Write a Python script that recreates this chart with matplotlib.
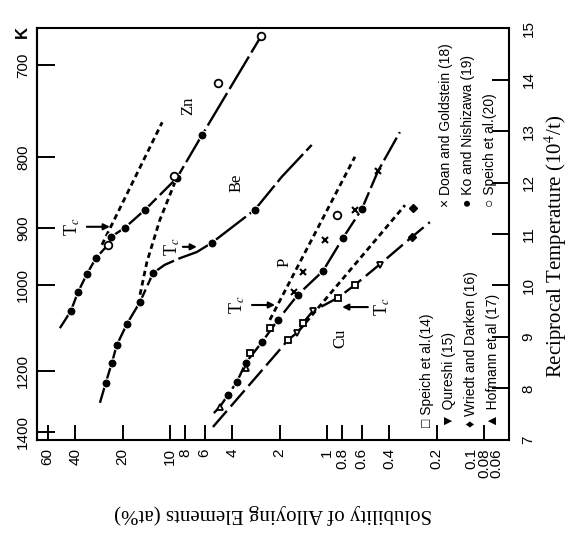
import numpy as np
import matplotlib
matplotlib.use("Agg")
import matplotlib.pyplot as plt
from matplotlib.ticker import NullLocator

plt.rcParams['mathtext.fontset'] = 'stix'
SERIF = ['Liberation Serif', 'DejaVu Serif']
SANS = ['Liberation Sans', 'DejaVu Sans']

# x: solubility (at%), y: reciprocal temperature 10^4/T
zn_x = [50.2, 42.8, 38.5, 33.8, 29.6, 24.8, 23.8, 19.4, 14.4, 9.02, 6.25, 2.63]
zn_y = [9.17, 9.50, 9.87, 10.22, 10.53, 10.79, 10.94, 11.12, 11.47, 12.09, 12.92, 14.84]
be_x = [27.9, 25.6, 23.4, 21.8, 18.8, 15.5, 12.8, 10.8, 8.63, 6.73, 5.40, 2.88, 1.94, 1.25]
be_y = [7.72, 8.11, 8.50, 8.84, 9.25, 9.68, 10.24, 10.40, 10.53, 10.65, 10.83, 11.47, 12.11, 12.73]
p_x = [5.25, 4.81, 4.27, 3.74, 3.28, 2.59, 2.05, 1.53, 1.06, 0.791, 0.598, 0.473, 0.343]
p_y = [7.52, 7.64, 7.87, 8.13, 8.50, 8.90, 9.33, 9.82, 10.28, 10.92, 11.49, 12.22, 12.98]
cu_x = [5.32, 2.05, 1.77, 1.55, 1.42, 1.23, 0.851, 0.663, 0.473, 0.288, 0.221]
cu_y = [7.25, 8.71, 8.94, 9.08, 9.27, 9.50, 9.76, 10.01, 10.38, 10.94, 11.23]

# metastable (dotted) extensions
zn_dot_x = [27.1, 11.2]
zn_dot_y = [10.79, 13.17]
be_dot_x = [15.5, 14.0, 11.6, 9.16]
be_dot_y = [9.82, 10.46, 11.27, 12.05]
p_dot_x = [2.31, 0.663]
p_dot_y = [9.33, 12.50]
cu_dot_x = [1.49, 0.318]
cu_dot_y = [9.14, 11.56]

# data points by source
ko_x = [42.8, 38.5, 33.8, 29.6, 23.8, 19.4, 14.4, 9.02, 6.25,
        25.6, 23.4, 21.8, 18.8, 15.5, 12.8, 5.40, 2.88,
        0.598, 0.791, 1.06, 1.53, 2.05, 2.59, 3.28, 3.74, 4.27]
ko_y = [9.50, 9.87, 10.22, 10.53, 10.94, 11.12, 11.47, 12.09, 12.92,
        8.11, 8.50, 8.84, 9.25, 9.68, 10.24, 10.83, 11.47,
        11.49, 10.92, 10.28, 9.82, 9.33, 8.90, 8.50, 8.13, 7.87]
speich20_x = [24.8, 9.4, 4.94, 2.63, 0.863]
speich20_y = [10.79, 12.13, 13.93, 14.84, 11.37]
doan_x = [0.473, 0.663, 1.03, 1.42, 1.62]
doan_y = [12.22, 11.47, 10.88, 10.26, 9.88]
speich14_x = [1.77, 1.42, 0.851, 0.663, 3.09, 2.31]
speich14_y = [8.94, 9.27, 9.76, 10.01, 8.69, 9.17]
qureshi_x = [1.55, 1.23, 0.46]
qureshi_y = [9.08, 9.50, 10.40]
wriedt_x = [0.283, 0.288]
wriedt_y = [11.50, 10.94]
hofmann_x = [4.81, 3.28]
hofmann_y = [7.64, 8.40]

# Tc markers
tc_text_x = [42.1, 9.7, 3.74, 0.447]
tc_tail_x = [33.8, 8.27, 3.0, 0.548]
tc_head_x = [24.1, 6.73, 2.14, 0.80]
tc_y = [11.14, 10.75, 9.62, 9.58]

# element labels
elem_names = ["Zn", "Be", "P", "Cu"]
elem_x = [7.67, 3.74, 1.85, 0.826]
elem_y = [13.50, 11.99, 10.44, 8.98]

sol_ticks = [60, 40, 20, 10, 8, 6, 4, 2, 1, 0.8, 0.6, 0.4, 0.2, 0.1]
sol_labels = ["60", "40", "20", "10", "8", "6", "4", "2", "1", "0.8", "0.6",
              "0.4", "0.2", "0.1\n0.08\n0.06"]
rt_ticks = [7, 8, 9, 10, 11, 12, 13, 14, 15]
kelvin_ticks = [700, 800, 900, 1000, 1200, 1400]

legend_low = ["\u25a1 Speich et al.(14)", "\u25bc Qureshi (15)",
              "\u2666 Wriedt and Darken (16)", "\u25b2 Hofmann et al (17)"]
legend_high = ["\u00d7 Doan and Goldstein (18)", "\u25cf Ko and Nishizawa (19)",
               "\u25cb Speich et al.(20)"]


def recip(v):
    v = np.asarray(v, dtype=float)
    with np.errstate(divide='ignore'):
        return 1e4 / v


fig = plt.figure(figsize=(5.77, 5.41), dpi=100)
ax = fig.add_axes([0.064, 0.187, 0.818, 0.761])
ax.set_xscale('log')
ax.set_xlim(70.3, 0.0693)
ax.set_ylim(7, 15)

dotted = dict(color='black', lw=2.0, dashes=(2.0, 1.4))
ax.plot(zn_x, zn_y, color='black', lw=1.7, dashes=(16, 2))
ax.plot(be_x, be_y, color='black', lw=1.7, dashes=(16, 2))
ax.plot(p_x, p_y, color='black', lw=1.7, dashes=(11, 2))
ax.plot(cu_x, cu_y, color='black', lw=1.7, dashes=(9, 2.5))
for xs, ys in [(zn_dot_x, zn_dot_y), (be_dot_x, be_dot_y),
               (p_dot_x, p_dot_y), (cu_dot_x, cu_dot_y)]:
    ax.plot(xs, ys, **dotted)

ax.plot(ko_x, ko_y, 'o', ms=6.5, mfc='black', mec='white', mew=0.8)
ax.plot(speich20_x, speich20_y, 'o', ms=5.5, mfc='white', mec='black', mew=1.3)
ax.plot(doan_x, doan_y, 'x', ms=5, color='black', mew=1.5)
ax.plot(speich14_x, speich14_y, 's', ms=5, mfc='white', mec='black', mew=1.3)
ax.plot(qureshi_x, qureshi_y, 'v', ms=5, mfc='white', mec='black', mew=1.3)
ax.plot(wriedt_x, wriedt_y, 'D', ms=4, color='black')
ax.plot(hofmann_x, hofmann_y, '^', ms=5, mfc='white', mec='black', mew=1.3)

for tx, t0, t1, ty in zip(tc_text_x, tc_tail_x, tc_head_x, tc_y):
    ax.annotate('', xy=(t1, ty), xytext=(t0, ty),
                arrowprops=dict(arrowstyle='-|>', lw=1.5, color='black',
                                mutation_scale=9, shrinkA=0, shrinkB=0))
    ax.text(tx, ty, 'T$_c$', rotation=90, ha='center', va='center',
            fontsize=13, family=SERIF)

for name, ex, ey in zip(elem_names, elem_x, elem_y):
    ax.text(ex, ey, name, rotation=90, ha='center', va='center',
            fontsize=12, family=SERIF)

# bottom axis: solubility
ax.xaxis.set_minor_locator(NullLocator())
ax.set_xticks(sol_ticks)
ax.set_xticklabels(sol_labels, rotation=90, fontsize=11, family=SANS,
                   linespacing=0.85, multialignment='right')
ax.tick_params(axis='x', direction='in', length=11, width=1.4, pad=6)
ax.set_xlabel('Solubility of Alloying Elements (at%)', rotation=180,
              fontsize=15, family=SERIF)
ax.xaxis.set_label_coords(0.5, -0.155)

# right axis: reciprocal temperature
ax.yaxis.tick_right()
ax.yaxis.set_label_position('right')
ax.set_yticks(rt_ticks)
ax.set_yticklabels([str(t) for t in rt_ticks], rotation=90, va='center',
                   fontsize=11, family=SANS)
ax.tick_params(axis='y', direction='in', length=12, width=1.4, pad=9)
ax.set_ylabel('Reciprocal Temperature (10$^4$/t)', fontsize=15, family=SERIF)
ax.yaxis.set_label_coords(1.07, 0.47)

# left axis: temperature in K
sec = ax.secondary_yaxis('left', functions=(recip, recip))
sec.set_yticks(kelvin_ticks)
sec.set_yticklabels([str(k) for k in kelvin_ticks], rotation=90, va='center',
                    fontsize=11, family=SANS)
sec.tick_params(direction='in', length=13, width=1.4, pad=5)
sec.yaxis.set_minor_locator(NullLocator())
ax.text(-0.03, 0.99, 'K', transform=ax.transAxes, rotation=90,
        ha='center', va='center', fontsize=12, family=SANS, weight='bold')

for sp in ax.spines.values():
    sp.set_linewidth(1.5)
sec.spines['left'].set_linewidth(1.5)

# legends written along the curves' direction
for i, lab in enumerate(legend_low):
    ax.text(0.826 + 0.0465 * i, 0.03, lab, transform=ax.transAxes,
            rotation=90, ha='center', va='bottom', fontsize=10, family=SANS)
for i, lab in enumerate(legend_high):
    ax.text(0.867 + 0.0465 * i, 0.565, lab, transform=ax.transAxes,
            rotation=90, ha='center', va='bottom', fontsize=10, family=SANS)

fig.savefig('out.png', dpi=100)
